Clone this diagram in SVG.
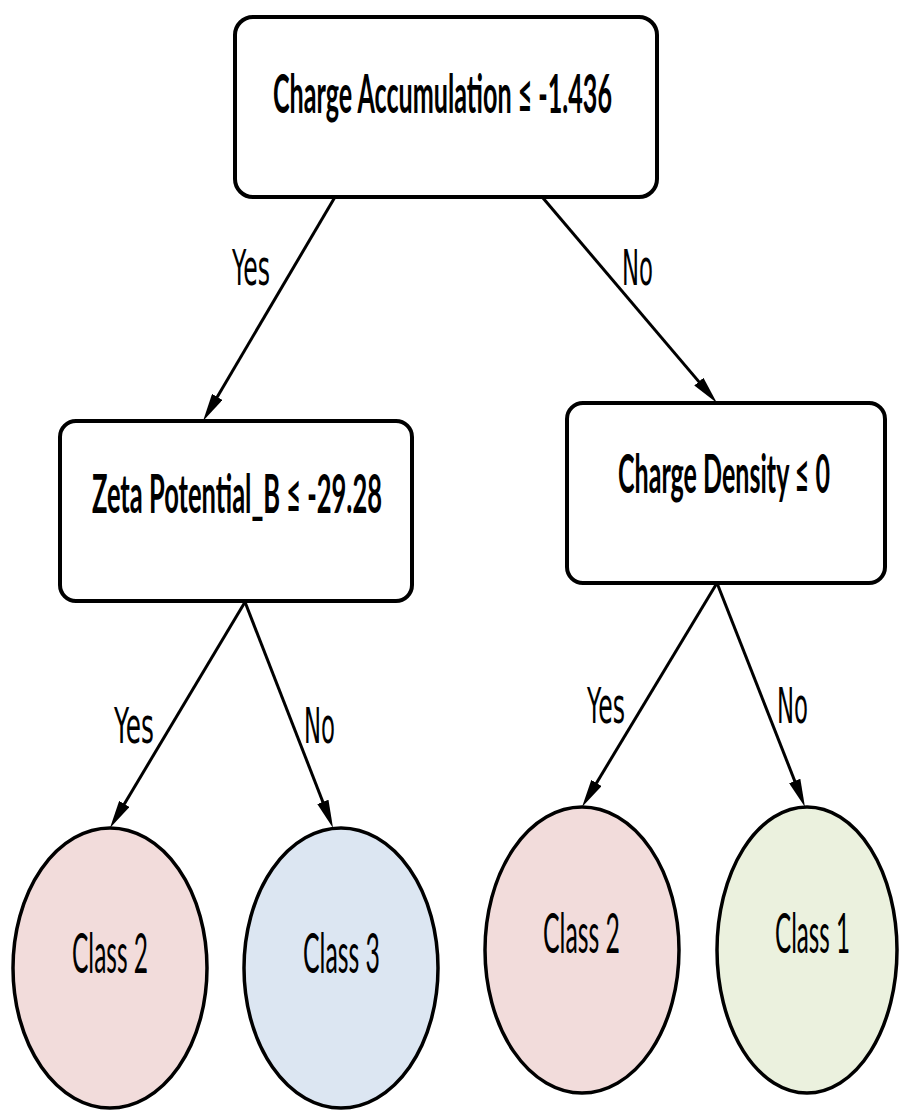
<svg xmlns="http://www.w3.org/2000/svg" width="900" height="1111" viewBox="0 0 900 1111">
  <style>
    .box { fill: #ffffff; stroke: #000000; stroke-width: 4; }
    .leaf { stroke: #000000; stroke-width: 3.5; }
    .c2 { fill: #f2dcdb; }
    .c3 { fill: #dce6f2; }
    .c1 { fill: #ebf1de; }
    .edge { fill: none; stroke: #000000; stroke-width: 3; }
    .cond { font-family: Lato, "Liberation Sans", sans-serif; font-weight: 700; font-size: 53px; fill: #000000; }
    .cls { font-family: Lato, "Liberation Sans", sans-serif; font-weight: 400; font-size: 56px; fill: #000000; }
    .lbl { font-family: "DejaVu Sans", "Liberation Sans", sans-serif; font-size: 50px; fill: #000000; }
  </style>
  <defs>
    <marker id="arrow" viewBox="0 0 28 12" refX="18" refY="6" markerWidth="28" markerHeight="12" markerUnits="userSpaceOnUse" orient="auto">
      <path d="M0,0 L28,6 L0,12 z" fill="#000000"/>
    </marker>
  </defs>

  <rect width="900" height="1111" fill="#ffffff"/>

  <!-- connectors; labels are set in a horizontally condensed frame -->
  <g id="connectors">
    <path class="edge" d="M335,197 L208.1,412.4" marker-end="url(#arrow)"/>
    <path class="edge" d="M543,198 L710.5,395.4" marker-end="url(#arrow)"/>
    <path class="edge" d="M245,602 L115.1,819.4" marker-end="url(#arrow)"/>
    <path class="edge" d="M245,602 L329.4,818.7" marker-end="url(#arrow)"/>
    <path class="edge" d="M717,583 L587.2,798.4" marker-end="url(#arrow)"/>
    <path class="edge" d="M717,583 L801.3,797.7" marker-end="url(#arrow)"/>
    <text class="lbl" transform="translate(232,285) scale(0.5,1)" textLength="76" lengthAdjust="spacingAndGlyphs">Yes</text>
    <text class="lbl" transform="translate(622,285) scale(0.5,1)" textLength="62" lengthAdjust="spacingAndGlyphs">No</text>
    <text class="lbl" transform="translate(114,743) scale(0.5,1)" textLength="80" lengthAdjust="spacingAndGlyphs">Yes</text>
    <text class="lbl" transform="translate(304,743) scale(0.5,1)" textLength="62" lengthAdjust="spacingAndGlyphs">No</text>
    <text class="lbl" transform="translate(587,723) scale(0.5,1)" textLength="76" lengthAdjust="spacingAndGlyphs">Yes</text>
    <text class="lbl" transform="translate(777,723) scale(0.5,1)" textLength="62" lengthAdjust="spacingAndGlyphs">No</text>
  </g>

  <!-- decision nodes -->
  <g id="node-root">
    <rect class="box" x="235" y="17" width="422" height="180" rx="18"/>
    <text class="cond" transform="translate(273,113) scale(0.5,1)" textLength="678" lengthAdjust="spacingAndGlyphs">Charge Accumulation ≤ -1.436</text>
  </g>
  <g id="node-zeta">
    <rect class="box" x="60" y="421" width="352" height="180" rx="16"/>
    <text class="cond" transform="translate(92,513) scale(0.5,1)" textLength="580" lengthAdjust="spacingAndGlyphs">Zeta Potential_B ≤ -29.28</text>
  </g>
  <g id="node-density">
    <rect class="box" x="567" y="403" width="318" height="180" rx="16"/>
    <text class="cond" transform="translate(618,493) scale(0.5,1)" textLength="424" lengthAdjust="spacingAndGlyphs">Charge Density ≤ 0</text>
  </g>

  <!-- leaf nodes -->
  <g id="leaf-class2-left">
    <ellipse class="leaf c2" cx="110" cy="968" rx="97" ry="140"/>
    <text class="cls" transform="translate(72,973) scale(0.5,1)" textLength="152" lengthAdjust="spacingAndGlyphs">Class 2</text>
  </g>
  <g id="leaf-class3">
    <ellipse class="leaf c3" cx="341" cy="968" rx="97" ry="140"/>
    <text class="cls" transform="translate(303,973) scale(0.5,1)" textLength="154" lengthAdjust="spacingAndGlyphs">Class 3</text>
  </g>
  <g id="leaf-class2-right">
    <ellipse class="leaf c2" cx="582" cy="950" rx="97" ry="143"/>
    <text class="cls" transform="translate(543,953) scale(0.5,1)" textLength="154" lengthAdjust="spacingAndGlyphs">Class 2</text>
  </g>
  <g id="leaf-class1">
    <ellipse class="leaf c1" cx="807" cy="950" rx="90" ry="143"/>
    <text class="cls" transform="translate(775,953) scale(0.5,1)" textLength="150" lengthAdjust="spacingAndGlyphs">Class 1</text>
  </g>
</svg>
